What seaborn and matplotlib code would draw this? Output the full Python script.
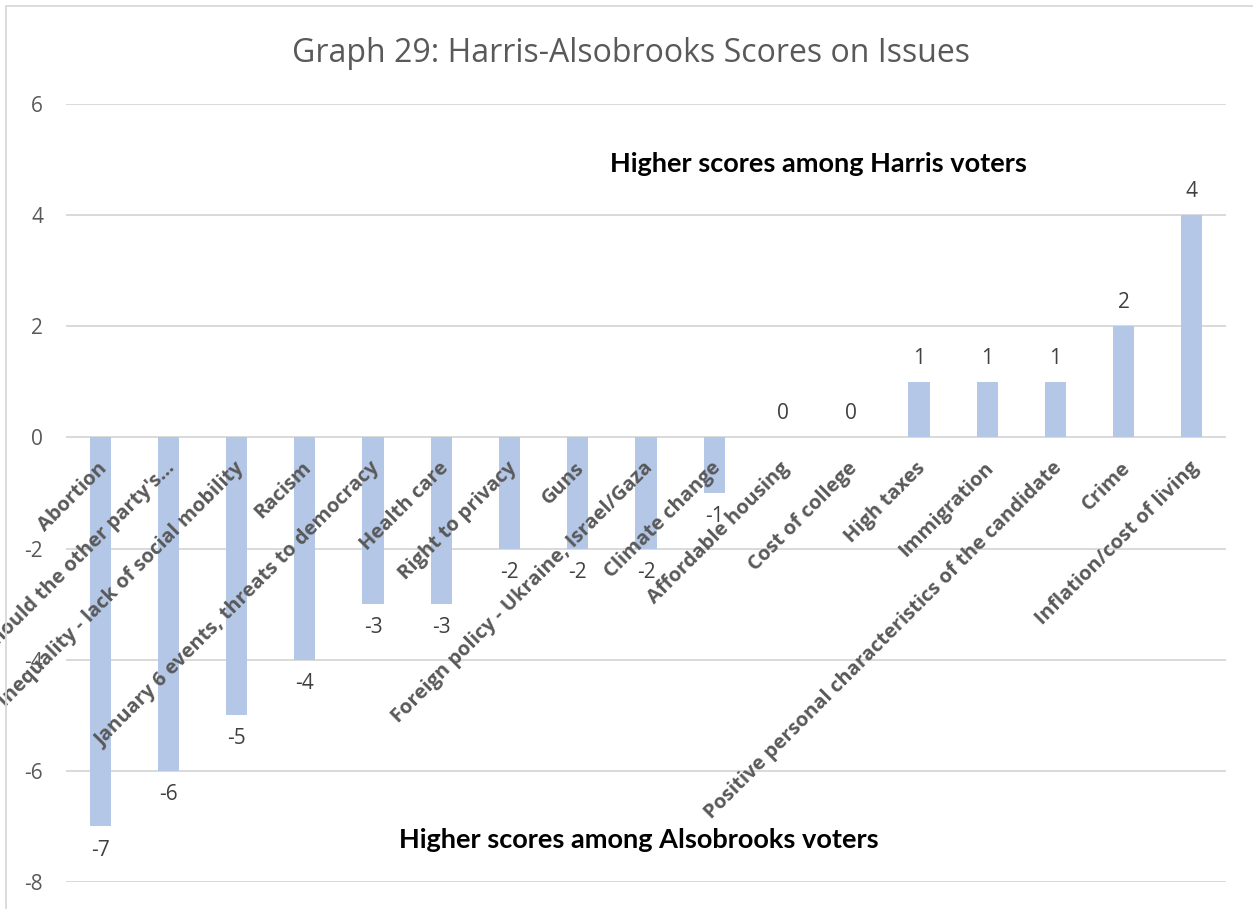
import matplotlib
matplotlib.use("Agg")
import matplotlib.pyplot as plt
import matplotlib.transforms as mtransforms
from matplotlib.patches import Rectangle
import pandas as pd
import seaborn as sns

# Issue categories and Harris-minus-Alsobrooks score differences
issues = [
    "Abortion",
    "Should the other party's…",
    "Inequality - lack of social mobility",
    "Racism",
    "January 6 events, threats to democracy",
    "Health care",
    "Right to privacy",
    "Guns",
    "Foreign policy - Ukraine, Israel/Gaza",
    "Climate change",
    "Affordable housing",
    "Cost of college",
    "High taxes",
    "Immigration",
    "Positive personal characteristics of the candidate",
    "Crime",
    "Inflation/cost of living",
]
scores = [-7, -6, -5, -4, -3, -3, -2, -2, -2, -1, 0, 0, 1, 1, 1, 2, 4]
y_ticks = [-8, -6, -4, -2, 0, 2, 4, 6]

title = "Graph 29: Harris-Alsobrooks Scores on Issues"
note_top = "Higher scores among Harris voters"
note_bottom = "Higher scores among Alsobrooks voters"

BAR = "#B4C7E7"
GRID = "#D9D9D9"
AXIS_TXT = "#595959"
VAL_TXT = "#404040"

sns.set_theme(style="white")
plt.rcParams["font.family"] = ["Open Sans", "DejaVu Sans"]
plt.rcParams["axes.unicode_minus"] = False

W, H = 1253, 909
fig = plt.figure(figsize=(W / 100, H / 100), dpi=100)
fig.patch.set_facecolor("white")

# chart-area outline (runs off the right and bottom edges)
fig.add_artist(Rectangle((6 / W, -0.2), 2.0, 1 - 6 / H + 0.2,
                         transform=fig.transFigure, fill=False,
                         edgecolor=GRID, linewidth=1.3))

ax = fig.add_axes([66 / W, 1 - 882 / H, 1160 / W, 778 / H])
df = pd.DataFrame({"issue": issues, "score": scores})
sns.barplot(data=df, x="issue", y="score", color=BAR, saturation=1,
            width=0.31, ax=ax, errorbar=None, linewidth=0, edgecolor="none")

ax.set_ylim(-8, 6)
ax.set_yticks(y_ticks)
ax.set_xlim(-0.5, len(issues) - 0.5)
ax.yaxis.grid(True, color=GRID, linewidth=1.4)
ax.xaxis.grid(False)
ax.set_axisbelow(True)
for s in ax.spines.values():
    s.set_visible(False)
ax.set_xlabel("")
ax.set_ylabel("")
ax.tick_params(axis="y", length=0, pad=16.5, labelsize=15, labelcolor=AXIS_TXT)

# category labels sit on the zero line, slanted at 45 degrees, over the bars
ax.spines["bottom"].set_position(("data", 0))
ax.tick_params(axis="x", length=0, pad=20)
ax.set_xticks(range(len(issues)))
ax.set_xticklabels(issues, rotation=45, ha="right", va="center",
                   rotation_mode="anchor", fontsize=14.5,
                   fontweight="bold", color=AXIS_TXT)
shift = mtransforms.ScaledTranslation(4 / 100, 0, fig.dpi_scale_trans)
for lab in ax.get_xticklabels():
    lab.set_transform(lab.get_transform() + shift)
ax.xaxis.set_zorder(5)

ax.bar_label(ax.containers[0], fmt="{:.0f}", padding=9.5,
             fontsize=15, color=VAL_TXT)

fig.text(631 / W, 1 - 62 / H, title, ha="center", va="baseline",
         fontsize=23, color=AXIS_TXT)
fig.text(818 / W, 1 - 164 / H, note_top, ha="center", va="center",
         fontsize=19.5, fontweight="bold", color="black",
         family=["Lato", "DejaVu Sans"])
fig.text(639 / W, 1 - 840 / H, note_bottom, ha="center", va="center",
         fontsize=19.5, fontweight="bold", color="black",
         family=["Lato", "DejaVu Sans"])

fig.savefig("out.png", dpi=100, facecolor="white")
